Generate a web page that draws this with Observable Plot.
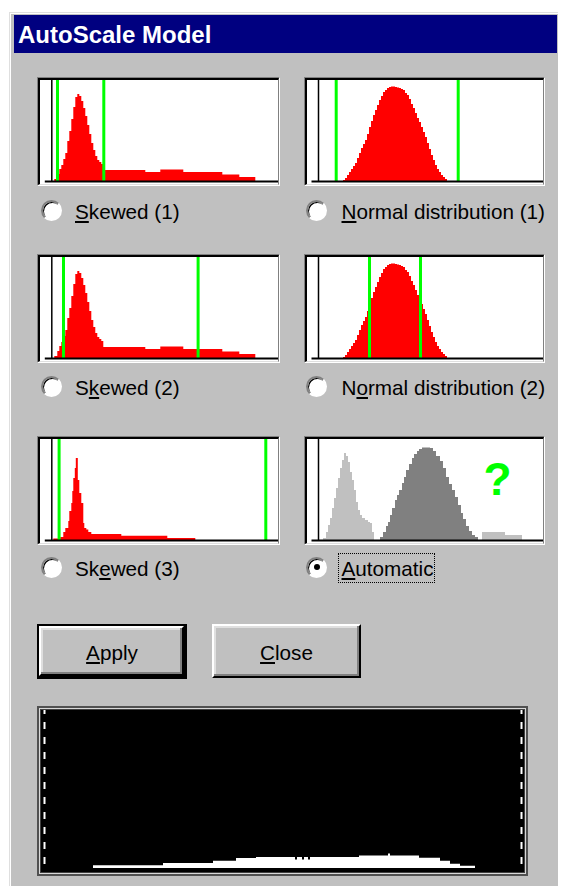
<!DOCTYPE html>
<html><head><meta charset="utf-8">
<script src="https://cdn.jsdelivr.net/npm/d3@7"></script>
<script src="https://cdn.jsdelivr.net/npm/@observablehq/plot@0.6"></script>
<style>
html,body{margin:0;padding:0;background:#fff;width:570px;height:886px;overflow:hidden;font-family:"Liberation Sans",Arial,sans-serif;}
#dlg{position:absolute;left:9px;top:12px;width:549px;height:880px;box-sizing:border-box;background:#c0c0c0;border-top:1px solid #dfdfdf;border-left:1px solid #dfdfdf;box-shadow:inset 1px 1px 0 #fff;}
#titlebar{position:absolute;left:14px;top:15px;width:543px;height:38px;background:#000080;}
#title{position:absolute;left:18px;top:23px;font-size:24px;line-height:24px;font-weight:bold;color:#fff;white-space:nowrap;}
.frame{position:absolute;box-sizing:border-box;border-style:solid;border-width:1px;border-color:#808080 #fff #fff #808080;}
.frame .in{box-sizing:border-box;border-style:solid;border-width:2px 1px 1px 2px;border-color:#000 #808080 #dfdfdf #000;background:#fff;height:100%;overflow:hidden;}
.frame svg{display:block;}
.radio{position:absolute;width:21px;height:21px;box-sizing:border-box;border-radius:50%;background:#fff;border:2px solid;border-color:#808080 #fff #fff #808080;box-shadow:inset 1px 1px 0 #000;}
.radio.on::after{content:"";position:absolute;left:5.5px;top:5.5px;width:6px;height:6px;border-radius:50%;background:#000;}
.lbl{position:absolute;font-size:20.7px;line-height:21px;white-space:nowrap;color:#000;}
.focus{position:absolute;left:338px;top:553px;width:97px;height:30px;box-sizing:border-box;border:1px dotted #000;}
.btnwrap{position:absolute;box-sizing:border-box;}
.btn{position:absolute;box-sizing:border-box;background:#c0c0c0;border:2px solid;border-color:#fff #000 #000 #fff;box-shadow:inset -2px -2px 0 #808080, inset 2px 2px 0 #dfdfdf;}
#mon{position:absolute;left:37px;top:706px;width:491px;height:170px;box-sizing:border-box;border:2px solid #505050;}
#mon .m1{box-sizing:border-box;height:100%;border:1px solid #d8d8d8;}
#mon .m2{box-sizing:border-box;height:100%;border:1px solid #404040;background:#000;}
#mon svg{display:block;}
</style></head>
<body>
<div id="dlg"></div>
<div id="titlebar"></div>
<div id="title">AutoScale Model</div>
<div id="root"></div>
<script>
// ---- data (x = grey level relative to zero line, count = relative frequency) ----
const skewedBins   = [3,6,8,10,12,14,16,18,20,22,24,26,28,30,32,34,36,38,40,42,44,46,48,50,52,94,109,132,171,188,204];
const skewedCounts = [2,7,12,16,22,28,40,50,62,74,84,87,85,80,73,65,56,47,38,31,25,21,19,17,11,9,11.5,9,6.5,4,0];

const normalBins   = [25,27,29,31,33,35,37,39,41,43,45,47,49,51,53,55,57,59,61,63,65,67,69,71,73,75,77,79,81,83,85,87,89,91,93,95,97,99,101,103,105,107,109,111,113,115,117,119,121,123,125,127,129];
const normalCounts = [1,3,6,9,12,15,18,23,28,33,37,41,47,54,60,66,71,76,81,85,89,91,93,94,94.5,94.5,94,93.5,93,92,91,88,86,82,77,73,68,63,59,54,49,44,38,32,26,21,16,12,9,6,4,2,0];

const spikeBins    = [2,9,12,14,17,18,20,21,22,23.5,24.5,26.5,28,30,32,33,35,37,40,70,116,144];
const spikeCounts  = [1.5,3,8,12,19,29,37,49,62,72,82,60,47,37,17,12,10.5,8,6,4.3,2,0];

const autoLightBins   = [5,8,10,12,14,16,18,20,22,24,26,28,30,32,34,36,38,40,42,44,47,50,52,54,56,164,187,204];
const autoLightCounts = [2,8,15,22,32,42,52,62,72,80,87,84,78,68,60,50,38,30,25,22,20,18,17,8,0,8,5,0];

const autoDarkBins   = [62,65,68,70,72,74,77,79,81,84,86,88,91,94,96,99,101,104,108,112,115,118,122,125,128,131,134,137,140,143,145,148,151,154,157,160];
const autoDarkCounts = [3,8,14,18,25,32,40,45,50,57,63,70,76,82,86,89,91,92.5,92.5,92,89,84,79,72,63,56,50,43,35,27,21,14,9,5,3,0];

const monitorBins   = [52,122,172,195,215,254,256,261,263,267,269,318,347,349,378,399,409,419,434];
const monitorCounts = [2.7,5,7.3,10,11,8.5,11,8.5,11,8.5,11,12.6,14.6,12.6,10.3,7.3,4.3,2.3,0];
const monitorMarkers = [3,480];

const limitsSkewed1 = [5.7,52];
const limitsNormal1 = [17.7,139.7];
const limitsSkewed2 = [11.7,146.3];
const limitsNormal2 = [51,102];
const limitsSkewed3 = [7.3,214];

const modelLabels = ["<u>S</u>kewed (1)","<u>N</u>ormal distribution (1)","S<u>k</u>ewed (2)","N<u>o</u>rmal distribution (2)","Sk<u>e</u>wed (3)","<u>A</u>utomatic"];
const autoNote = [{x:179, y:60, text:"?"}];

// ---- helpers ----
const root = document.getElementById("root");
function el(cls, css, html){ const d=document.createElement("div"); d.className=cls; Object.assign(d.style, css); if(html) d.innerHTML=html; root.appendChild(d); return d; }
function table(bins, counts){ return bins.map((x,i)=>({x, count:counts[i]})); }

function panel(left, top, width, xStart, series, limits, note){
  const f = el("frame", {left:left+"px", top:top+"px", width:width+"px", height:"109px"});
  const inner = document.createElement("div"); inner.className="in"; f.appendChild(inner);
  const w = width-5, h = 104;
  const marks = series.map(s => Plot.areaY(table(s.bins, s.counts), {x:"x", y:"count", curve:"step-after", fill:s.fill}));
  marks.push(Plot.ruleX([0], {stroke:"#000", strokeWidth:1.5}));
  if (limits) marks.push(Plot.ruleX(limits, {stroke:"#00ff00", strokeWidth:3}));
  if (note) marks.push(Plot.text(note, {x:"x", y:"y", text:"text", fill:"#00ff00", fontSize:46, fontWeight:"bold"}));
  marks.push(Plot.ruleY([0], {x1:-6.5, x2:xStart+w, stroke:"#000", strokeWidth:2}));
  const svg = Plot.plot({width:w, height:h, marginTop:0, marginBottom:3, marginLeft:0, marginRight:0,
    x:{domain:[xStart, xStart+w], axis:null}, y:{domain:[0,101], axis:null},
    style:{background:"transparent", overflow:"visible", fontFamily:"Liberation Sans"}, marks});
  inner.appendChild(svg);
}

const red = "#ff0000";
panel(37, 77, 243, -11.3, [{bins:skewedBins, counts:skewedCounts, fill:red}], limitsSkewed1);
panel(304, 77, 241, -11, [{bins:normalBins, counts:normalCounts, fill:red}], limitsNormal1);
panel(37, 254, 243, -11.3, [{bins:skewedBins, counts:skewedCounts, fill:red}], limitsSkewed2);
panel(304, 254, 241, -11, [{bins:normalBins, counts:normalCounts, fill:red}], limitsNormal2);
panel(37, 435.5, 243, -11.3, [{bins:spikeBins, counts:spikeCounts, fill:red}], limitsSkewed3);
panel(304, 436, 241, -11, [{bins:autoLightBins, counts:autoLightCounts, fill:"#c0c0c0"},{bins:autoDarkBins, counts:autoDarkCounts, fill:"#808080"}], null, autoNote);

// radio rows
const rowY = [0, 176, 357];
modelLabels.forEach((t,i)=>{
  const col = i%2, row = Math.floor(i/2);
  const cx = col ? 316.7 : 51.7, tx = col ? 341.5 : 75;
  const cy = 210 + rowY[row];
  el("radio"+(i===5?" on":""), {left:(cx-10.5)+"px", top:(cy-10.5)+"px"});
  el("lbl", {left:tx+"px", top:(218.3+rowY[row]-17.8)+"px"}, t);
});
el("focus", {});

// buttons
const apply = el("btnwrap", {left:"37px", top:"624px", width:"150px", height:"55px", border:"2px solid #000", borderBottomWidth:"3px", borderRightWidth:"3px"});
const ab = document.createElement("div"); ab.className="btn"; Object.assign(ab.style,{left:"0",top:"0",right:"0",bottom:"0"}); apply.appendChild(ab);
el("btn", {left:"212px", top:"624px", width:"149px", height:"54px"});
el("lbl", {left:"37px", width:"150px", textAlign:"center", top:(660-17.8)+"px"}, "<u>A</u>pply");
el("lbl", {left:"212px", width:"149px", textAlign:"center", top:(660-17.8)+"px"}, "<u>C</u>lose");

// monitor histogram
const mon = el("", {}); mon.id="mon";
const m1 = document.createElement("div"); m1.className="m1"; mon.appendChild(m1);
const m2 = document.createElement("div"); m2.className="m2"; m1.appendChild(m2);
m2.appendChild(Plot.plot({width:483, height:162, marginTop:0, marginBottom:4, marginLeft:0, marginRight:0,
  x:{domain:[0,483], axis:null}, y:{domain:[0,158], axis:null},
  style:{background:"#000", overflow:"visible"},
  marks:[
    Plot.areaY(table(monitorBins, monitorCounts), {x:"x", y:"count", curve:"step-after", fill:"#fff"}),
    Plot.ruleX(monitorMarkers, {y1:4, y2:158, stroke:"#fff", strokeWidth:2, strokeDasharray:"7,8"})
  ]}));
</script>
</body></html>
